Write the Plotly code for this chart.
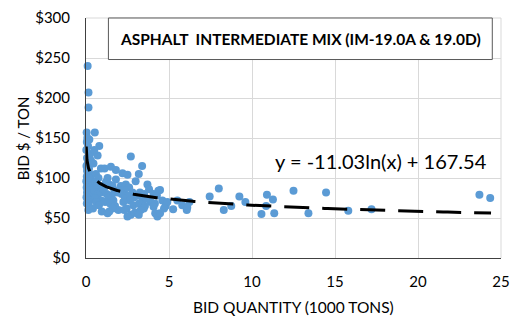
import numpy as np
import plotly.graph_objects as go

# Bid quantity (1000 tons) and bid price ($/ton)
qty = [
    0.10, 0.15, 0.15, 0.04, 0.53, 0.08, 0.20, 0.05, 0.30, 0.12, 0.02, 0.25, 0.06, 0.10,
    0.03, 0.18, 0.08, 0.22, 0.05, 0.12, 0.30, 0.02, 0.15, 0.08, 0.35, 0.04, 0.10, 0.20,
    0.06, 0.14, 0.28, 0.03, 0.09, 0.23, 0.12, 0.05, 0.17, 0.14, 0.07, 0.25,
    0.80, 0.70, 0.50, 0.45, 0.90, 0.60, 0.75, 0.55, 0.85, 0.65, 0.95, 0.48, 0.72, 0.58,
    0.92, 0.62, 0.78, 0.42, 0.88, 0.68,
    1.12, 1.50, 1.80, 1.30, 1.80, 1.20, 1.40, 1.60, 1.10, 1.70, 1.90, 1.25, 1.55, 1.35,
    1.65, 1.15, 1.45, 1.75, 1.30, 1.40, 1.95, 1.05, 1.60,
    2.70, 2.20, 2.50, 2.99, 2.10, 2.40, 2.60, 2.30, 2.80, 2.15, 2.55, 2.90, 2.35, 2.65,
    2.25, 2.85, 2.45, 2.70, 2.50, 2.30, 2.95, 2.05,
    3.38, 3.18, 3.70, 3.80, 3.25, 3.50, 3.10, 3.60, 3.40, 3.90, 3.20, 3.55, 3.48, 3.08,
    3.30, 3.18, 3.65,
    4.46, 4.07, 4.27, 4.36, 4.60, 4.15, 4.80, 4.07, 4.17, 4.30, 4.46, 4.90, 4.70,
    5.25, 6.07, 6.23, 5.50, 5.80, 6.10,
    7.45, 8.00, 8.30, 8.75, 9.24, 9.60, 10.57, 10.90, 10.85, 11.26, 11.34, 12.50,
    13.40, 14.46, 15.80, 17.20, 23.70, 24.35,
]
bid = [
    240, 207, 188, 157, 157, 150, 148, 145, 122, 140, 135, 130, 125, 118,
    115, 112, 108, 105, 102, 100, 98, 96, 94, 92, 90, 88, 86, 84,
    82, 80, 78, 76, 74, 72, 70, 68, 65, 60, 110, 100,
    140, 128, 135, 118, 112, 105, 100, 95, 90, 88, 58, 85, 80, 75,
    72, 70, 66, 62, 82, 92,
    112, 114, 110, 100, 98, 95, 92, 90, 88, 85, 82, 80, 78, 75,
    72, 70, 68, 65, 56, 58, 60, 86, 62,
    127, 106, 104, 96, 90, 92, 88, 85, 82, 80, 78, 76, 74, 72,
    70, 66, 62, 54, 52, 60, 57, 84,
    115, 105, 92, 86, 82, 80, 78, 75, 72, 70, 68, 65, 62, 56,
    60, 54, 74,
    85, 80, 78, 84, 72, 68, 65, 64, 56, 52, 56, 70, 62,
    61, 60, 70, 72, 66, 63,
    77, 87, 60, 65, 77, 70, 55, 79, 65, 73, 56, 84,
    56, 82, 59, 61, 79, 75,
]

# Logarithmic trendline (x in tons): y = -11.03 ln(x) + 167.54
trend_a = -11.03
trend_b = 167.54
trend_x = np.geomspace(0.013, 24.4, 600)
trend_y = trend_a * np.log(trend_x * 1000) + trend_b

x_ticks = [0, 5, 10, 15, 20, 25]
y_ticks = [0, 50, 100, 150, 200, 250, 300]
y_tick_text = ["$0", "$50", "$100", "$150", "$200", "$250", "$300"]

FONT = "Lato"

fig = go.Figure()
fig.add_trace(go.Scatter(
    x=qty, y=bid, mode="markers",
    marker=dict(color="#5B9BD5", size=8, line=dict(width=0)),
    showlegend=False, cliponaxis=False,
))
fig.add_trace(go.Scatter(
    x=trend_x, y=trend_y, mode="lines",
    line=dict(color="black", width=3, dash="25px,13px"),
    showlegend=False,
))

fig.update_layout(
    width=518, height=326,
    margin=dict(l=86, r=8, t=10, b=68),
    paper_bgcolor="white", plot_bgcolor="white",
    font=dict(family=FONT, color="#000000", size=15),
    xaxis=dict(
        range=[0, 25], tickvals=x_ticks, showgrid=True, gridcolor="#d9d9d9",
        gridwidth=1, zeroline=False, showline=True, linecolor="#404040",
        linewidth=1, ticks="", ticklabelstandoff=10, mirror=False,
        tickfont=dict(size=15), ticklabeloverflow="allow",
    ),
    yaxis=dict(
        range=[0, 300], tickvals=y_ticks, ticktext=y_tick_text, showgrid=True,
        gridcolor="#d9d9d9", gridwidth=1, zeroline=False, showline=True,
        linecolor="#404040", linewidth=1, ticks="", ticklabelstandoff=12,
        tickfont=dict(size=15),
    ),
    shapes=[
        dict(type="line", xref="paper", yref="paper", x0=0, x1=1, y0=1, y1=1,
             line=dict(color="#d9d9d9", width=1)),
        dict(type="line", xref="paper", yref="paper", x0=1, x1=1, y0=0, y1=1,
             line=dict(color="#d9d9d9", width=1)),
        dict(type="rect", xref="paper", yref="paper", x0=0.054, x1=0.979,
             y0=0.827, y1=1.0, fillcolor="white",
             line=dict(color="#595959", width=1), layer="above"),
    ],
    annotations=[
        dict(text="<b>ASPHALT  INTERMEDIATE MIX (IM-19.0A &amp; 19.0D)</b>",
             xref="paper", yref="paper", x=0.517, y=0.911, showarrow=False,
             xanchor="center", yanchor="middle", font=dict(size=15.5)),
        dict(text="y = -11.03ln(x) + 167.54", xref="paper", yref="paper",
             x=0.71, y=0.403, showarrow=False, xanchor="center",
             yanchor="middle", font=dict(size=20)),
        dict(text="BID QUANTITY (1000 TONS)", xref="paper", yref="paper",
             x=0.5, y=-0.2055, showarrow=False, xanchor="center",
             yanchor="middle", font=dict(size=15.5)),
        dict(text="BID $ / TON", xref="paper", yref="paper", x=-0.151,
             y=0.5, showarrow=False, xanchor="center", yanchor="middle",
             textangle=-90, font=dict(size=15)),
    ],
)

fig.write_html("out.html")
